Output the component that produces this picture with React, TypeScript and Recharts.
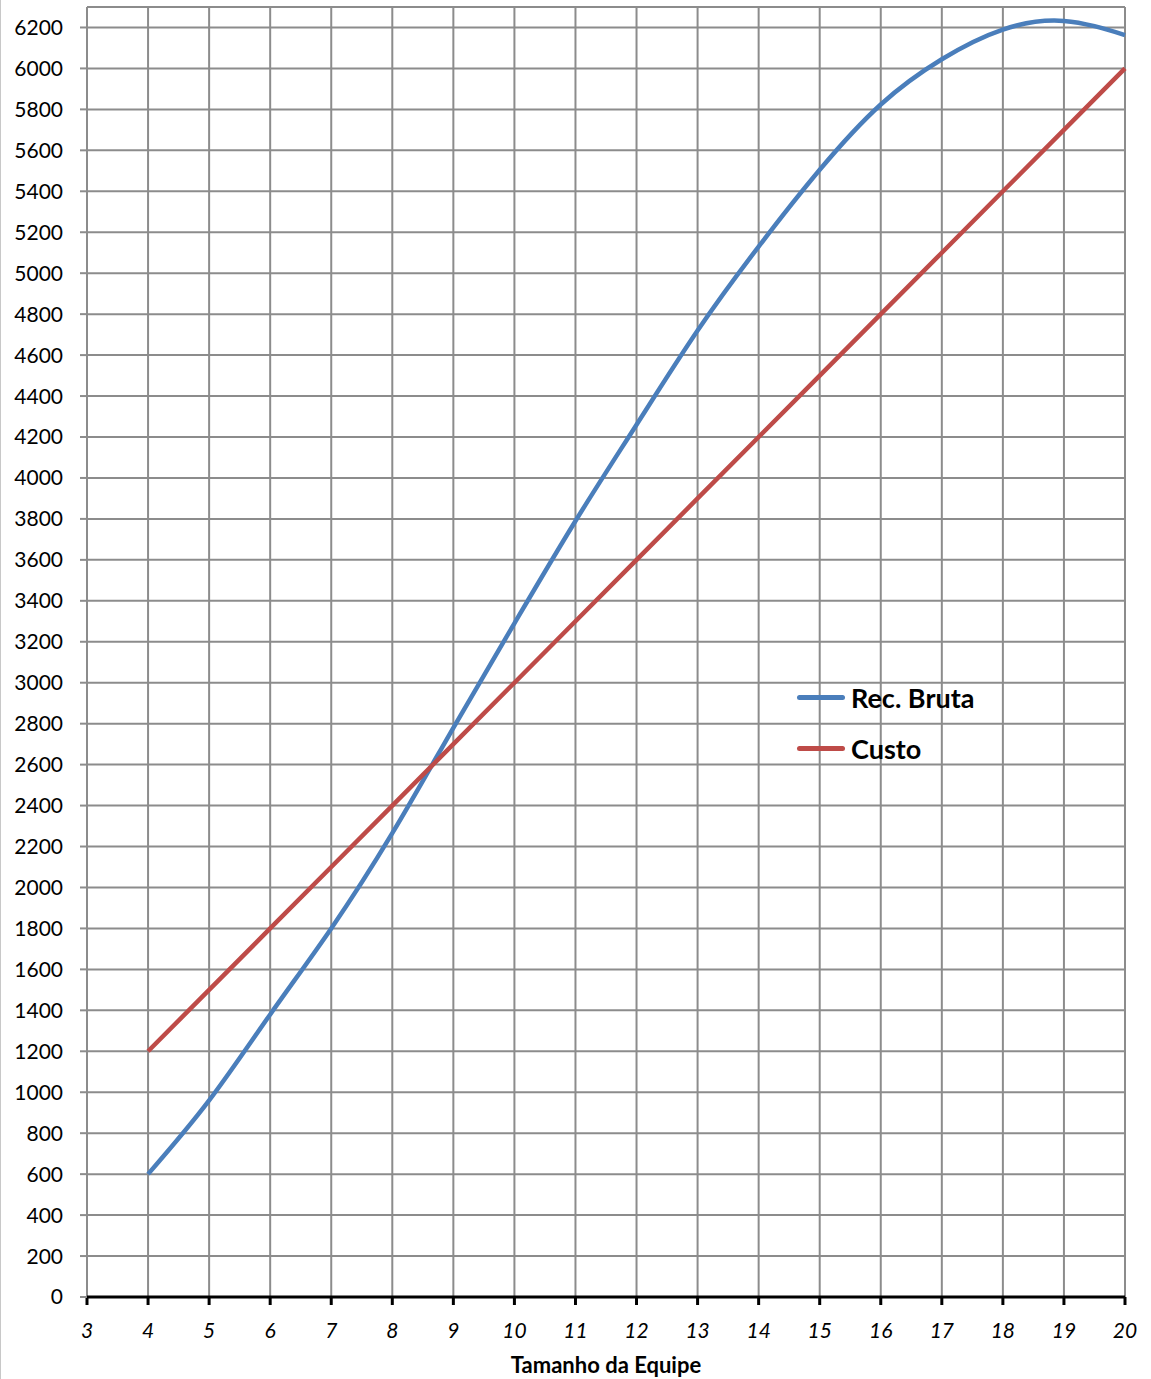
import { LineChart, Line, XAxis, YAxis, CartesianGrid } from "recharts"

const teamSizes = [4, 5, 6, 7, 8, 9, 10, 11, 12, 13, 14, 15, 16, 17, 18, 19, 20]
const recBruta = [600, 960, 1380, 1800, 2265, 2780, 3290, 3790, 4260, 4720, 5130, 5505, 5824, 6045, 6190, 6232, 6163]
const custo = [1200, 1500, 1800, 2100, 2400, 2700, 3000, 3300, 3600, 3900, 4200, 4500, 4800, 5100, 5400, 5700, 6000]

const xTicks = [3, 4, 5, 6, 7, 8, 9, 10, 11, 12, 13, 14, 15, 16, 17, 18, 19, 20]
const yTicks = [0, 200, 400, 600, 800, 1000, 1200, 1400, 1600, 1800, 2000, 2200, 2400, 2600, 2800, 3000, 3200, 3400, 3600, 3800, 4000, 4200, 4400, 4600, 4800, 5000, 5200, 5400, 5600, 5800, 6000, 6200]

const BLUE = "#4a7ebb"
const RED = "#be4b48"
const GRID = "#8c8c8c"
const FONT = "Lato, 'Open Sans', sans-serif"

const data = teamSizes.map((n, i) => ({ n, rec: recBruta[i], custo: custo[i] }))

function LegendBox() {
  const items = [
    { label: "Rec. Bruta", color: BLUE },
    { label: "Custo", color: RED },
  ]
  return (
    <div style={{ position: "absolute", left: 797, top: 672, fontFamily: FONT }}>
      {items.map((it) => (
        <div key={it.label} style={{ display: "flex", alignItems: "center", height: 51 }}>
          <span style={{ display: "inline-block", width: 48, height: 5, borderRadius: 3, background: it.color, marginRight: 6 }} />
          <span style={{ fontSize: 27, fontWeight: 700, color: "#000" }}>{it.label}</span>
        </div>
      ))}
    </div>
  )
}

export default function App() {
  return (
    <div style={{ position: "absolute", left: 0, top: 0, width: 1151, height: 1379, background: "#fff" }}>
      <div style={{ position: "absolute", left: 0, top: 0, width: 1, height: 1379, background: "#c8c8c8" }} />
      <LineChart
        width={1151}
        height={1379}
        data={data}
        margin={{ top: 7, right: 26, left: 0, bottom: 0 }}
        style={{ fontFamily: FONT }}
      >
        <CartesianGrid stroke={GRID} strokeWidth={2} />
        <XAxis
          dataKey="n"
          type="number"
          domain={[3, 20]}
          ticks={xTicks}
          interval={0}
          height={82}
          axisLine={{ stroke: "#000", strokeWidth: 3 }}
          tickLine={{ stroke: "#000", strokeWidth: 3 }}
          tickSize={8}
          tickMargin={18}
          tick={{ fontSize: 21, fill: "#000", fontStyle: "italic" }}
          label={{ value: "Tamanho da Equipe", position: "insideBottom", offset: 6, fontSize: 22, fontWeight: 700, fill: "#000" }}
        />
        <YAxis
          type="number"
          domain={[0, 6300]}
          ticks={yTicks}
          interval={0}
          width={87}
          axisLine={false}
          tickLine={{ stroke: GRID, strokeWidth: 2 }}
          tickSize={7}
          tickMargin={17}
          tick={{ fontSize: 21, fill: "#000" }}
        />
        <Line
          type="natural"
          dataKey="rec"
          stroke={BLUE}
          strokeWidth={4.5}
          dot={false}
          isAnimationActive={false}
        />
        <Line
          type="linear"
          dataKey="custo"
          stroke={RED}
          strokeWidth={4.5}
          dot={false}
          isAnimationActive={false}
        />
      </LineChart>
      <LegendBox />
    </div>
  )
}
